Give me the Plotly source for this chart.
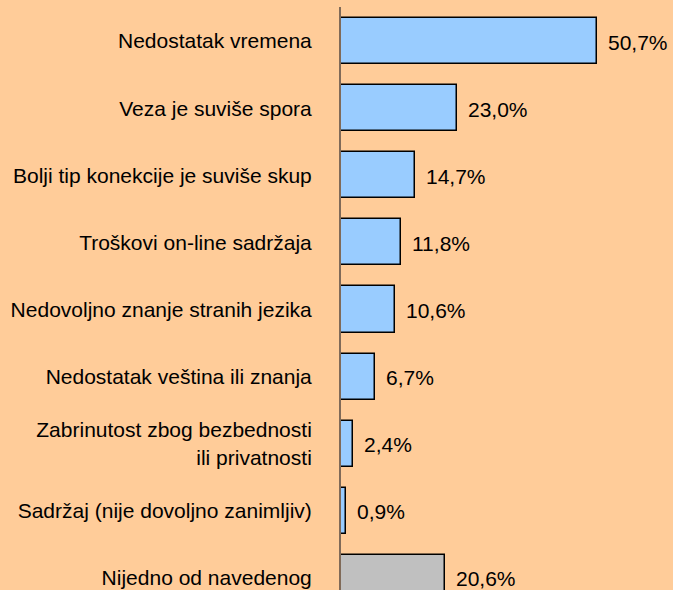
import plotly.graph_objects as go

categories = [
    "Nedostatak vremena",
    "Veza je suviše spora",
    "Bolji tip konekcije je suviše skup",
    "Troškovi on-line sadržaja",
    "Nedovoljno znanje stranih jezika",
    "Nedostatak veština ili znanja",
    "Zabrinutost zbog bezbednosti<br>ili privatnosti",
    "Sadržaj (nije dovoljno zanimljiv)",
    "Nijedno od navedenog",
]
values = [50.7, 23.0, 14.7, 11.8, 10.6, 6.7, 2.4, 0.9, 20.6]
value_labels = ["50,7%", "23,0%", "14,7%", "11,8%", "10,6%", "6,7%", "2,4%", "0,9%", "20,6%"]
bar_colors = ["#99CCFF"] * 8 + ["#C0C0C0"]

pos = list(range(len(categories)))
font = "Liberation Sans, Arial, sans-serif"
fsize = 21

fig = go.Figure()
fig.add_trace(go.Bar(
    y=pos, x=values, orientation="h",
    marker=dict(color=bar_colors, line=dict(color="black", width=1.5)),
    width=0.686,
    hoverinfo="skip",
))

for p, v, t in zip(pos, values, value_labels):
    fig.add_annotation(x=v, y=p, text=t, showarrow=False, xanchor="left",
                       xshift=9, yshift=-1,
                       font=dict(family=font, size=fsize, color="black"))

fig.update_layout(
    width=673, height=590,
    paper_bgcolor="#FFCC99", plot_bgcolor="#FFCC99",
    margin=dict(l=341, r=0, t=7, b=0),
    showlegend=False,
    font=dict(family=font, size=fsize, color="black"),
    bargap=0,
)
fig.update_xaxes(range=[0, 65.75], showgrid=False, zeroline=False,
                 showticklabels=False, showline=False, ticks="")
fig.update_yaxes(range=[8.18, -0.508], tickvals=pos, ticktext=categories,
                 showgrid=False, zeroline=False, showline=True,
                 linecolor="#806A58", linewidth=2, ticks="",
                 ticklabelstandoff=23,
                 tickfont=dict(family=font, size=fsize, color="black"))

fig.write_html(
    "out.html",
    config={"displayModeBar": False},
    post_script="document.body.style.margin='0';document.body.style.background='#FFCC99';",
)
